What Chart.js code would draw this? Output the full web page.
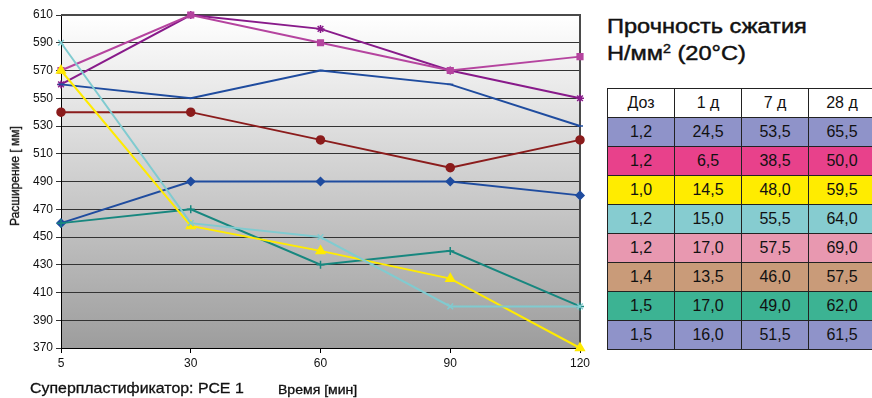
<!DOCTYPE html>
<html lang="ru">
<head>
<meta charset="utf-8">
<script src="https://cdn.jsdelivr.net/npm/chart.js@4/dist/chart.umd.min.js"></script>
<style>
  html, body { margin: 0; padding: 0; background: #fff; }
  body { width: 872px; height: 398px; position: relative; overflow: hidden;
         font-family: "Liberation Sans", Arial, sans-serif; color: #111; }
  #chartBox { position: absolute; left: 0; top: 0; width: 600px; height: 398px; }
  .foot1 { position: absolute; left: 30px; top: 379px; font-size: 15px; white-space: nowrap;
           transform: scaleX(1.06); transform-origin: left center; -webkit-text-stroke: 0.3px #111; }
  .foot2 { position: absolute; left: 278px; top: 383px; font-size: 12px; white-space: nowrap;
           transform: scaleX(1.17); transform-origin: left center; -webkit-text-stroke: 0.3px #111; }
  .ytitle { position: absolute; left: 15px; top: 176px; font-size: 12px; white-space: nowrap;
            transform: translate(-50%, -50%) rotate(-90deg); -webkit-text-stroke: 0.3px #111; }
  .title { position: absolute; left: 607px; top: 13px; font-size: 20px; line-height: 27px; white-space: nowrap;
           transform: scaleX(1.18); transform-origin: left top; -webkit-text-stroke: 0.45px #111; }
  .title sup { font-size: 12px; vertical-align: 7px; line-height: 0; }
  table { position: absolute; left: 607px; top: 88px; border-collapse: collapse; table-layout: fixed; width: 264px; }
  tr { height: 29px; }
  td { width: 66px; padding: 0; text-align: center; font-size: 16px;
       border: 1.5px solid #222; color: #111; }
</style>
</head>
<body>
<div id="chartBox"><canvas id="c"></canvas></div>
<div class="ytitle">Расширение [ мм]</div>
<div class="foot1">Суперпластификатор: РСЕ 1</div>
<div class="foot2">Время [мин]</div>
<div class="title">Прочность сжатия<br>Н/мм<sup>2</sup> (20°C)</div>
<table id="tbl"></table>
<script>
// Time after mixing, minutes
const times = ['5', '30', '60', '90', '120'];

// Slump flow (mm) for each mix
const flowA = [560, 610, 600, 570, 550];
const flowB = [570, 610, 590, 570, 580];
const flowC = [560, 550, 570, 560, 530];
const flowD = [540, 540, 520, 500, 520];
const flowE = [460, 490, 490, 490, 480];
const flowF = [460, 470, 430, 440, 400];
const flowG = [570, 458, 440, 420, 370];
const flowH = [590, 460, 450, 400, 400];

// Compressive strength table
const tableHead = ['Доз', '1 д', '7 д', '28 д'];
const dosage = ['1,2', '1,2', '1,0', '1,2', '1,2', '1,4', '1,5', '1,5'];
const day1 = ['24,5', '6,5', '14,5', '15,0', '17,0', '13,5', '17,0', '16,0'];
const day7 = ['53,5', '38,5', '48,0', '55,5', '57,5', '46,0', '49,0', '51,5'];
const day28 = ['65,5', '50,0', '59,5', '64,0', '69,0', '57,5', '62,0', '61,5'];
const rowColors = ['#8f93c9', '#e8418b', '#ffec00', '#86ccd0', '#e898b0', '#c99b79', '#3cb393', '#8f93c9'];

// build the table
const tbl = document.getElementById('tbl');
const hr = document.createElement('tr');
tableHead.forEach(h => { const td = document.createElement('td'); td.textContent = h; td.style.background = '#fff'; hr.appendChild(td); });
tbl.appendChild(hr);
dosage.forEach((d, i) => {
  const tr = document.createElement('tr');
  [d, day1[i], day7[i], day28[i]].forEach(v => {
    const td = document.createElement('td'); td.textContent = v; td.style.background = rowColors[i]; tr.appendChild(td);
  });
  tbl.appendChild(tr);
});

function ds(data, color, style, radius) {
  return {
    data, borderColor: color, backgroundColor: color, borderWidth: 2,
    pointStyle: style, pointRadius: radius, pointBorderWidth: 1.5,
    pointHoverRadius: radius, tension: 0, clip: false
  };
}

// gradient plot background + frame
const plotBg = {
  id: 'plotBg',
  beforeDraw(chart) {
    const { ctx, chartArea: a } = chart;
    const g = ctx.createLinearGradient(0, a.top, 0, a.bottom);
    g.addColorStop(0, '#ffffff');
    g.addColorStop(1, '#9d9d9d');
    ctx.save();
    ctx.fillStyle = g;
    ctx.fillRect(a.left, a.top, a.right - a.left, a.bottom - a.top);
    ctx.restore();
  },
  beforeDatasetsDraw(chart) {
    const { ctx, chartArea: a } = chart;
    ctx.save();
    ctx.strokeStyle = '#4a4a4a';
    ctx.lineWidth = 2;
    ctx.beginPath();
    ctx.moveTo(a.left, a.top);
    ctx.lineTo(a.right, a.top);
    ctx.lineTo(a.right, a.bottom);
    ctx.stroke();
    ctx.restore();
  }
};

new Chart(document.getElementById('c'), {
  type: 'line',
  data: {
    labels: times,
    datasets: [
      ds(flowH, '#80cbd0', 'crossRot', 4),
      ds(flowG, '#ffeb00', 'triangle', 5),
      ds(flowF, '#17877f', 'cross', 4),
      ds(flowE, '#1f4c9f', 'rectRot', 4),
      ds(flowD, '#8b1c1c', 'circle', 4),
      ds(flowC, '#1f4c9f', 'line', 3),
      ds(flowB, '#b5449f', 'rect', 4),
      ds(flowA, '#881a8a', 'star', 4)
    ]
  },
  options: {
    responsive: true,
    maintainAspectRatio: false,
    animation: false,
    events: [],
    layout: { padding: { left: 0, top: 15, right: 20, bottom: 0 } },
    plugins: { legend: { display: false }, tooltip: { enabled: false } },
    scales: {
      x: {
        offset: false,
        grid: { drawOnChartArea: false, drawTicks: true, tickLength: 5, color: '#000' },
        border: { color: '#000', width: 1 },
        ticks: { color: '#111', font: { family: 'Liberation Sans', size: 12 }, padding: 3, maxRotation: 0 },
        afterFit(s) { s.height = 50; }
      },
      y: {
        min: 370, max: 610,
        grid: { color: '#333', lineWidth: 1, tickLength: 5 },
        border: { color: '#000', width: 1 },
        ticks: { stepSize: 20, color: '#111', font: { family: 'Liberation Sans', size: 12 }, padding: 3 },
        afterFit(s) { s.width = 61; }
      }
    }
  },
  plugins: [plotBg]
});
</script>
</body>
</html>
